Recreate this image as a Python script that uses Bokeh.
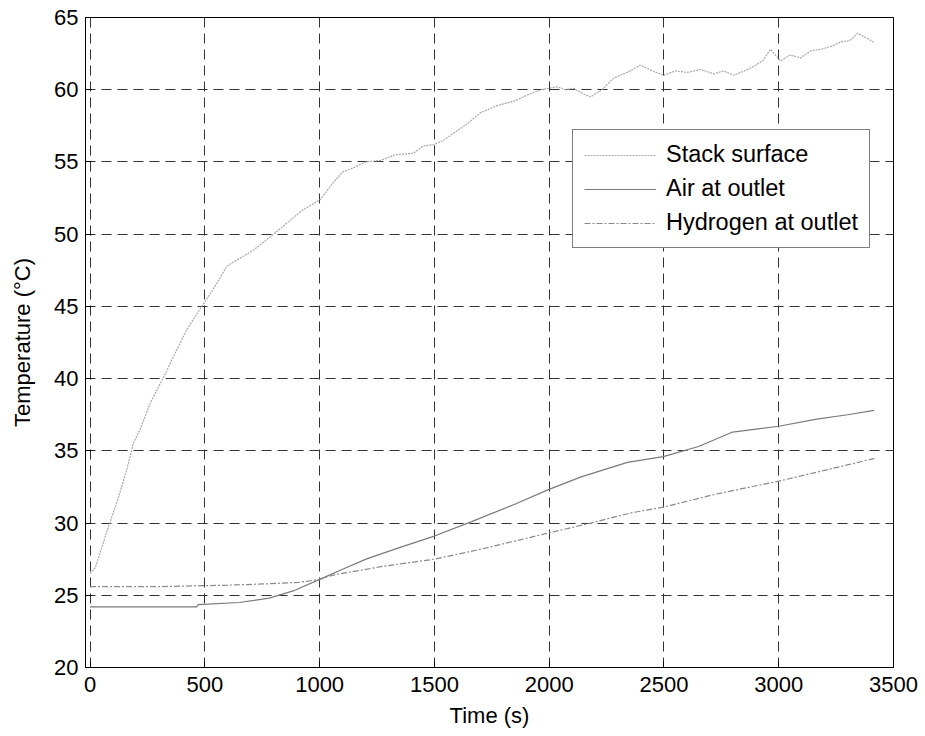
from bokeh.plotting import figure
from bokeh.models import Range1d, FixedTicker, Legend, LegendItem
from bokeh.embed import file_html
from bokeh.resources import INLINE

# ---- data ----
time_stack = [0, 22, 51, 79, 116, 160, 188, 218, 262, 320, 378, 422, 470, 508, 560, 596,
              650, 712, 760, 799, 860, 920, 1003, 1061, 1100, 1148, 1200, 1264, 1330, 1409,
              1450, 1497, 1540, 1584, 1640, 1700, 1773, 1846, 1900, 1962, 2035, 2070, 2107,
              2150, 2180, 2230, 2281, 2340, 2398, 2450, 2499, 2550, 2602, 2660, 2717, 2760,
              2804, 2850, 2890, 2930, 2964, 3008, 3050, 3095, 3140, 3182, 3230, 3269, 3310,
              3343, 3380, 3413]
temp_stack = [26.5, 26.9, 28.3, 29.7, 31.4, 33.7, 35.5, 36.5, 38.3, 40.1, 42.0, 43.4, 44.6,
              45.5, 46.8, 47.8, 48.3, 48.9, 49.5, 50.0, 50.8, 51.6, 52.4, 53.6, 54.3, 54.6,
              55.0, 55.1, 55.5, 55.6, 56.1, 56.2, 56.5, 57.0, 57.6, 58.4, 58.9, 59.2, 59.6,
              60.0, 60.2, 60.0, 60.1, 59.7, 59.5, 60.0, 60.8, 61.2, 61.7, 61.3, 61.0, 61.3,
              61.2, 61.4, 61.1, 61.3, 61.0, 61.3, 61.6, 62.0, 62.8, 62.0, 62.4, 62.2, 62.7,
              62.8, 63.0, 63.3, 63.4, 63.9, 63.6, 63.3]

time_air = [0, 465, 470, 650, 780, 885, 1000, 1100, 1202, 1347, 1500, 1662, 1850, 1994,
            2139, 2341, 2497, 2651, 2799, 3000, 3166, 3300, 3416]
temp_air = [24.2, 24.2, 24.35, 24.5, 24.8, 25.3, 26.1, 26.8, 27.5, 28.3, 29.1, 30.1, 31.3,
            32.3, 33.2, 34.2, 34.6, 35.3, 36.3, 36.7, 37.2, 37.5, 37.8]

time_h2 = [0, 300, 600, 784, 913, 1000, 1058, 1275, 1500, 1705, 1994, 2182, 2355, 2497,
           2725, 3000, 3240, 3424]
temp_h2 = [25.6, 25.6, 25.7, 25.8, 25.9, 26.1, 26.4, 27.0, 27.5, 28.2, 29.3, 30.0, 30.7,
           31.1, 32.0, 32.9, 33.8, 34.5]

x_ticks = [0, 500, 1000, 1500, 2000, 2500, 3000, 3500]
y_ticks = [20, 25, 30, 35, 40, 45, 50, 55, 60, 65]
series_names = ["Stack surface", "Air at outlet", "Hydrogen at outlet"]

FONT = "Liberation Sans"

p = figure(width=925, height=736, output_backend="svg", toolbar_location=None,
           x_range=Range1d(-20, 3500), y_range=Range1d(20, 65),
           min_border_left=85, min_border_right=32, min_border_top=17, min_border_bottom=69)

p.background_fill_color = "white"
p.border_fill_color = "white"
p.outline_line_color = "black"
p.outline_line_width = 1

p.xaxis.ticker = FixedTicker(ticks=x_ticks)
p.yaxis.ticker = FixedTicker(ticks=y_ticks)
for ax in (p.xaxis[0], p.yaxis[0]):
    ax.axis_line_color = "black"
    ax.major_tick_in = 6
    ax.major_tick_out = 0
    ax.minor_tick_line_color = None
    ax.major_tick_line_color = "black"
    ax.major_label_text_font = FONT
    ax.major_label_text_font_size = "22px"
    ax.major_label_text_color = "black"
    ax.axis_label_text_font = FONT
    ax.axis_label_text_font_size = "22px"
    ax.axis_label_text_font_style = "normal"
    ax.axis_label_text_color = "black"

p.xaxis.axis_label = "Time (s)"
p.yaxis.axis_label = "Temperature (\u00b0C)"
p.xaxis.major_label_standoff = 9
p.yaxis.major_label_standoff = 7
p.xaxis.axis_label_standoff = 8
p.yaxis.axis_label_standoff = 16

for g in (p.xgrid[0], p.ygrid[0]):
    g.grid_line_color = "#333333"
    g.grid_line_dash = "10 6"
    g.grid_line_width = 1
p.xgrid.ticker = FixedTicker(ticks=x_ticks)
p.ygrid.ticker = FixedTicker(ticks=y_ticks)

r1 = p.line(time_stack, temp_stack, line_color="#a8a8a8", line_width=1.2, line_dash="2 1")
r2 = p.line(time_air, temp_air, line_color="#7a7a7a", line_width=1.2)
r3 = p.line(time_h2, temp_h2, line_color="#8a8a8a", line_width=1.2, line_dash="6 2 2 2")

legend = Legend(items=[LegendItem(label=series_names[0], renderers=[r1]),
                       LegendItem(label=series_names[1], renderers=[r2]),
                       LegendItem(label=series_names[2], renderers=[r3])],
                location=(487, 419))
legend.label_text_font = FONT
legend.label_text_font_size = "23.5px"
legend.label_text_color = "black"
legend.glyph_width = 72
legend.label_standoff = 10
legend.label_height = 26
legend.glyph_height = 26
legend.spacing = 7
legend.padding = 11
legend.margin = 0
legend.border_line_color = "black"
legend.border_line_width = 1
legend.background_fill_color = "white"
legend.background_fill_alpha = 1.0
p.add_layout(legend, "center")

open("out.html", "w").write(file_html(p, INLINE))
